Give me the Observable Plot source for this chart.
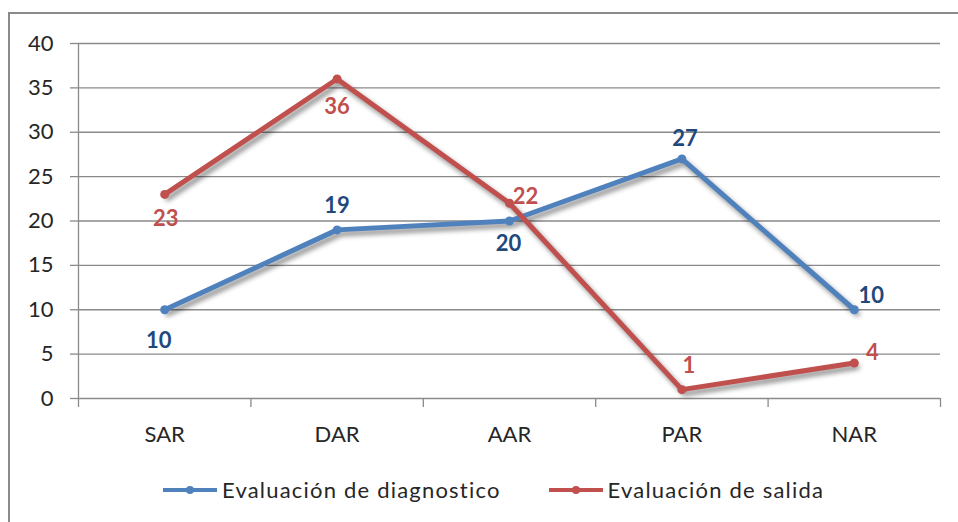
<!DOCTYPE html>
<html>
<head>
<meta charset="utf-8">
<script src="https://cdn.jsdelivr.net/npm/d3@7"></script>
<script src="https://cdn.jsdelivr.net/npm/@observablehq/plot@0.6"></script>
<style>
  html, body { margin: 0; padding: 0; background: #fff; }
  body { width: 958px; height: 522px; overflow: hidden; position: relative; font-family: Lato, "Open Sans", sans-serif; }
  #frame { position: absolute; left: 8px; top: 12px; width: 960px; height: 520px; border: 2px solid #8a8a8a; box-sizing: border-box; }
  #chart { position: absolute; left: 0; top: 0; }
  #chart svg g[aria-label="line"] { filter: drop-shadow(3px 4px 2.5px rgba(0,0,0,0.45)); }
  #legend { position: absolute; left: 163px; top: 476px; display: flex; align-items: center; font-size: 22px; letter-spacing: 1.2px; color: #262626; white-space: nowrap; }
  .item { display: flex; align-items: center; margin-right: 48px; }
  .swatch { position: relative; width: 54px; height: 4px; margin-right: 5px; }
  .swatch::after { content: ""; position: absolute; left: 23px; top: -2px; width: 8px; height: 8px; border-radius: 50%; background: inherit; }
</style>
</head>
<body>
<div id="frame"></div>
<div id="chart"></div>
<div id="legend"></div>
<script>
const categories = ["SAR", "DAR", "AAR", "PAR", "NAR"];
const seriesNames = ["Evaluación de diagnostico", "Evaluación de salida"];
const diagnostico = [10, 19, 20, 27, 10];
const salida = [23, 36, 22, 1, 4];
const yTicks = [0, 5, 10, 15, 20, 25, 30, 35, 40];

const colors = ["#4F81BD", "#C0504D"];
const labelColors = ["#1F497D", "#C0504D"];
// label placement offsets (pixels) per series, per category
const labelOffsets = [
  [[-6, 31], [0, -24], [-1, 23], [3, -20], [17, -14]],
  [[1, 25], [0, 28], [16, -6], [7, -24], [18, -10]]
];

const series = [diagnostico, salida];
const rows = [];
series.forEach((vals, s) => vals.forEach((v, i) => rows.push({series: seriesNames[s], s, i, cat: categories[i], value: v})));

const idx = categories.map((_, i) => i);
const edges = d3.range(-0.5, categories.length, 1);

const labelMarks = rows.map(r => Plot.text([r], {
  x: "i", y: "value", text: d => String(d.value),
  fill: labelColors[r.s], fontWeight: "bold", fontSize: 22,
  dx: labelOffsets[r.s][r.i][0], dy: labelOffsets[r.s][r.i][1]
}));

const chart = Plot.plot({
  width: 958,
  height: 460,
  marginLeft: 78,
  marginRight: 18,
  marginTop: 43,
  marginBottom: 62,
  style: {fontFamily: "Lato, 'Open Sans', sans-serif", fontSize: "22px", color: "#262626", background: "transparent"},
  x: {type: "linear", domain: [-0.5, categories.length - 0.5]},
  y: {domain: [0, 40]},
  marks: [
    Plot.gridY(yTicks, {stroke: "#8a8a8a", strokeOpacity: 1, strokeWidth: 1.3}),
    Plot.axisY(yTicks, {tickSize: 8, tickPadding: 17, stroke: "#8a8a8a", strokeWidth: 1.3, label: null, fontSize: 22}),
    Plot.ruleX([-0.5], {y1: 0, y2: 40, stroke: "#8a8a8a", strokeWidth: 1.3}),
    Plot.axisX(edges, {tickSize: 9, tickFormat: () => "", stroke: "#8a8a8a", strokeWidth: 1.3, label: null}),
    Plot.axisX(idx, {tickSize: 0, tickPadding: 28, tickFormat: i => categories[i], label: null, fontSize: 22, style: {letterSpacing: "0.6px"}}),
    Plot.line(rows, {x: "i", y: "value", z: "series", stroke: d => colors[d.s], strokeWidth: 5, strokeLinejoin: "round", strokeLinecap: "round"}),
    Plot.dot(rows, {x: "i", y: "value", r: 4.5, fill: d => colors[d.s], stroke: "none"}),
    ...labelMarks
  ]
});
document.getElementById("chart").appendChild(chart);

const legend = document.getElementById("legend");
seriesNames.forEach((name, s) => {
  const item = document.createElement("div");
  item.className = "item";
  const sw = document.createElement("div");
  sw.className = "swatch";
  sw.style.background = colors[s];
  const t = document.createElement("span");
  t.textContent = name;
  item.appendChild(sw);
  item.appendChild(t);
  legend.appendChild(item);
});
</script>
</body>
</html>
